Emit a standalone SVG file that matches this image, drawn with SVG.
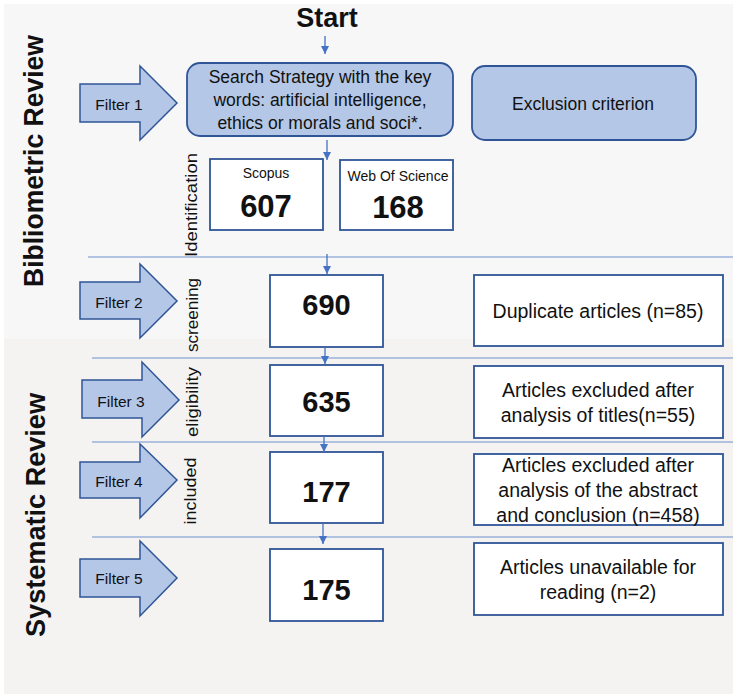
<svg xmlns="http://www.w3.org/2000/svg" width="733" height="694" viewBox="0 0 733 694">
<style>
  text { font-family: "Liberation Sans", Arial, sans-serif; fill: #111; }
  .arrowshape { fill: #b4c7e7; stroke: #2f5597; stroke-width: 1.5; }
  .rbox { fill: #b4c7e7; stroke: #2f5597; stroke-width: 1.8; }
  .box { fill: #ffffff; stroke: #2f5597; stroke-width: 1.8; }
  .sep { stroke: #6f8fd0; stroke-width: 1.2; fill: none; }
  .conn { stroke: #4472c4; stroke-width: 1.3; fill: none; }
  .ftxt { font-size: 15.5px; text-anchor: middle; }
  .btxt { font-size: 17.5px; text-anchor: middle; }
  .rtxt { font-size: 19.5px; text-anchor: middle; }
  .num { font-size: 29px; font-weight: bold; text-anchor: middle; }
  .vlab { font-size: 16px; text-anchor: middle; }
  .side { font-size: 27px; font-weight: bold; text-anchor: middle; }
</style>
<defs>
  <marker id="ah" viewBox="0 0 10 10" refX="10" refY="5" markerWidth="8" markerHeight="8" markerUnits="userSpaceOnUse" orient="auto">
    <path d="M0,0 L10,5 L0,10 z" fill="#4472c4"/>
  </marker>
</defs>
<rect x="0" y="0" width="733" height="694" fill="#ffffff"/>
<rect x="4" y="4" width="729" height="336" fill="#f7f7f7"/>
<rect x="4" y="339" width="729" height="355" fill="#f4f3f1"/>

<g id="side-labels">
  <text class="side" transform="translate(43,161) rotate(-90)" textLength="252" lengthAdjust="spacingAndGlyphs">Bibliometric Review</text>
  <text class="side" transform="translate(45,515) rotate(-90)" textLength="244" lengthAdjust="spacingAndGlyphs">Systematic Review</text>
</g>

<g id="stage-labels">
  <text class="vlab" transform="translate(197,205) rotate(-90)" textLength="104" lengthAdjust="spacingAndGlyphs">Identification</text>
  <text class="vlab" transform="translate(198,315) rotate(-90)" textLength="74" lengthAdjust="spacingAndGlyphs">screening</text>
  <text class="vlab" transform="translate(198,402) rotate(-90)" textLength="70" lengthAdjust="spacingAndGlyphs">eligibility</text>
  <text class="vlab" transform="translate(196,491) rotate(-90)" textLength="67" lengthAdjust="spacingAndGlyphs">included</text>
</g>

<g id="separators">
  <line class="sep" x1="88" y1="257" x2="733" y2="257"/>
  <line class="sep" x1="92" y1="358" x2="733" y2="358"/>
  <line class="sep" x1="92" y1="442" x2="733" y2="442"/>
  <line class="sep" x1="92" y1="537" x2="733" y2="537"/>
</g>

<g id="start">
  <text x="327" y="27" font-size="27" font-weight="bold" text-anchor="middle">Start</text>
</g>

<g id="filter1">
  <polygon class="arrowshape" points="80,84 140,84 140,66 177,103 140,140 140,122 80,122"/>
  <text class="ftxt" x="119" y="110">Filter 1</text>
</g>
<g id="filter2">
  <polygon class="arrowshape" points="80,282 140,282 140,264 177,301 140,338 140,319 80,319"/>
  <text class="ftxt" x="119" y="308">Filter 2</text>
</g>
<g id="filter3">
  <polygon class="arrowshape" points="82,380 142,380 142,362 179,400 142,437 142,418 82,418"/>
  <text class="ftxt" x="121" y="407">Filter 3</text>
</g>
<g id="filter4">
  <polygon class="arrowshape" points="80,462 140,462 140,444 177,480 140,518 140,498 80,498"/>
  <text class="ftxt" x="119" y="487">Filter 4</text>
</g>
<g id="filter5">
  <polygon class="arrowshape" points="80,559 140,559 140,541 177,578 140,616 140,597 80,597"/>
  <text class="ftxt" x="119" y="584">Filter 5</text>
</g>

<g id="search">
  <rect class="rbox" x="187" y="63" width="266" height="73" rx="13"/>
  <text class="btxt" x="320" y="83">Search Strategy with the key</text>
  <text class="btxt" x="320" y="106">words: artificial intelligence,</text>
  <text class="btxt" x="320" y="129">ethics or morals and soci*.</text>
</g>

<g id="exclusion">
  <rect class="rbox" x="472" y="66" width="224" height="74" rx="13"/>
  <text class="btxt" x="583" y="110">Exclusion criterion</text>
</g>

<g id="scopus">
  <rect class="box" x="210" y="159" width="113" height="71"/>
  <text x="266" y="178" font-size="14" text-anchor="middle">Scopus</text>
  <text class="num" x="266" y="217" font-size="31" style="font-size:31px">607</text>
</g>
<g id="wos">
  <rect class="box" x="340" y="160" width="113" height="70"/>
  <text x="398" y="181" font-size="14" text-anchor="middle">Web Of Science</text>
  <text class="num" x="398" y="218" style="font-size:31px">168</text>
</g>

<g id="n690">
  <rect class="box" x="270" y="275" width="113" height="72"/>
  <text class="num" x="326.5" y="315">690</text>
</g>
<g id="n635">
  <rect class="box" x="270" y="365" width="113" height="71"/>
  <text class="num" x="326.5" y="412">635</text>
</g>
<g id="n177">
  <rect class="box" x="270" y="452" width="113" height="71"/>
  <text class="num" x="326.5" y="502">177</text>
</g>
<g id="n175">
  <rect class="box" x="270" y="549" width="113" height="72"/>
  <text class="num" x="326.5" y="600">175</text>
</g>

<g id="dup">
  <rect class="box" x="474" y="275" width="249" height="71"/>
  <text class="rtxt" x="598" y="318">Duplicate articles (n=85)</text>
</g>
<g id="titles">
  <rect class="box" x="474" y="366" width="249" height="72"/>
  <text class="rtxt" x="598" y="397">Articles excluded after</text>
  <text class="rtxt" x="598" y="422">analysis of titles(n=55)</text>
</g>
<g id="abstract">
  <rect class="box" x="474" y="454" width="249" height="71"/>
  <text class="rtxt" x="598" y="472">Articles excluded after</text>
  <text class="rtxt" x="598" y="497">analysis of the abstract</text>
  <text class="rtxt" x="598" y="522">and conclusion (n=458)</text>
</g>
<g id="unavailable">
  <rect class="box" x="474" y="543" width="249" height="72"/>
  <text class="rtxt" x="598" y="574">Articles unavailable for</text>
  <text class="rtxt" x="598" y="599">reading (n=2)</text>
</g>

<g id="connectors">
  <line class="conn" x1="325" y1="36" x2="325" y2="54" marker-end="url(#ah)"/>
  <line class="conn" x1="327" y1="140" x2="327" y2="160" marker-end="url(#ah)"/>
  <line class="conn" x1="327" y1="254" x2="327" y2="274" marker-end="url(#ah)"/>
  <line class="conn" x1="325" y1="347" x2="325" y2="364" marker-end="url(#ah)"/>
  <line class="conn" x1="324" y1="436" x2="324" y2="452" marker-end="url(#ah)"/>
  <line class="conn" x1="323" y1="523" x2="323" y2="544" marker-end="url(#ah)"/>
</g>
</svg>
